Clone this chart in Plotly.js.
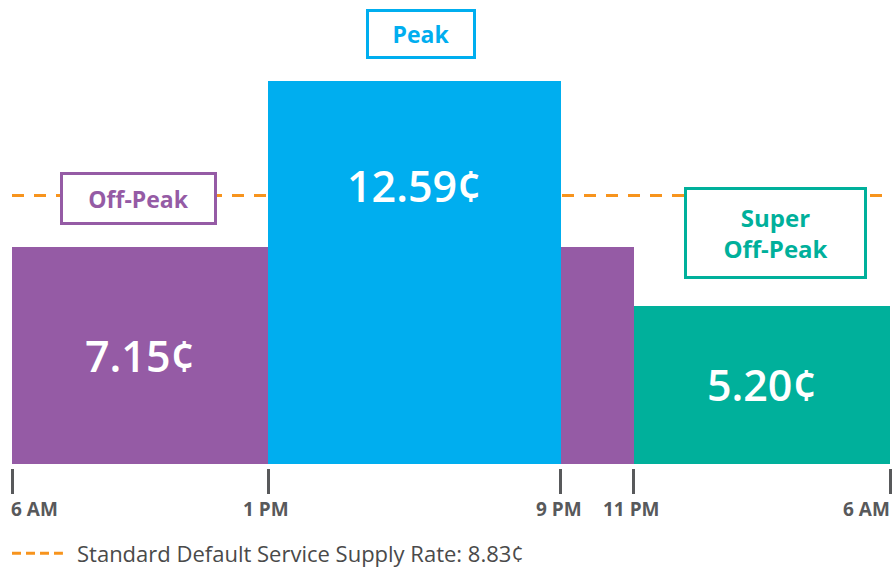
<!DOCTYPE html>
<html>
<head>
<meta charset="utf-8">
<script src="https://cdn.plot.ly/plotly-3.0.1.min.js"></script>
<style>html,body{margin:0;padding:0;background:#fff;}#chart{width:892px;height:570px;}</style>
</head>
<body>
<div id="chart"></div>
<script>
// Time periods (hours after 6 AM) and rates in cents/kWh
const periodNames = ["Off-Peak", "Peak", "Off-Peak", "Super Off-Peak"];
const periodStart = [0, 7, 15, 17];
const periodEnd = [7, 15, 17, 24];
const periodRate = [7.15, 12.59, 7.15, 5.20];
const standardRate = 8.83;
const standardLabel = "Standard Default Service Supply Rate";
const tickHours = [0, 7, 15, 17, 24];
const tickLabels = ["6 AM", "1 PM", "9 PM", "11 PM", "6 AM"];

const colors = {"Off-Peak": "#955BA5", "Peak": "#00AEEF", "Super Off-Peak": "#00B09B"};
const ORANGE = "#F7941D";
const FONT = "'Open Sans', Lato, sans-serif";

const centers = periodStart.map((s, i) => (s + periodEnd[i]) / 2);
const widths = periodStart.map((s, i) => periodEnd[i] - s);
const fmt = v => v.toFixed(2) + "¢";

const barTrace = {
  type: "bar",
  x: centers,
  y: periodRate,
  width: widths,
  marker: {color: periodNames.map(n => colors[n]), line: {width: 0}},
  text: periodRate.map((v, i) => (i === 2 || periodNames[i] === "Peak") ? "" : fmt(v)),
  textposition: "inside",
  insidetextanchor: "middle",
  constraintext: "none",
  textfont: {family: FONT, size: 43, color: "#ffffff", weight: 600},
  hoverinfo: "skip",
  showlegend: false
};

const annotations = [];
// category boxes: one per distinct period name, placed over its first bar
const boxSize = {"Off-Peak": [151, 47], "Peak": [104, 44], "Super Off-Peak": [177, 86]};
const boxShift = {"Off-Peak": 22, "Peak": 22, "Super Off-Peak": 27};
const boxText = {"Off-Peak": "Off-Peak", "Peak": "Peak", "Super Off-Peak": "Super<br>Off-Peak"};
const boxFont = {"Off-Peak": 23, "Peak": 23, "Super Off-Peak": 24};
const boxXShift = {"Off-Peak": -2, "Peak": 7, "Super Off-Peak": 14};
const seen = {};
periodNames.forEach((n, i) => {
  if (seen[n]) return;
  seen[n] = true;
  annotations.push({
    x: centers[i], y: periodRate[i], xref: "x", yref: "y",
    yanchor: "bottom", yshift: boxShift[n], xshift: boxXShift[n],
    text: "<b>" + boxText[n] + "</b>", showarrow: false,
    font: {family: FONT, size: boxFont[n], color: colors[n]},
    bordercolor: colors[n], borderwidth: 3, borderpad: 0,
    bgcolor: "#ffffff",
    width: boxSize[n][0], height: boxSize[n][1], align: "center", valign: "middle"
  });
});
// Peak value label near the top of its bar
periodNames.forEach((n, i) => {
  if (n !== "Peak") return;
  annotations.push({
    x: centers[i], y: periodRate[i], xref: "x", yref: "y",
    yanchor: "middle", yshift: -104, xshift: 0,
    text: fmt(periodRate[i]), showarrow: false,
    font: {family: FONT, size: 43, color: "#ffffff", weight: 600}
  });
});
// tick labels
tickHours.forEach((h, i) => {
  const first = i === 0, last = i === tickHours.length - 1;
  annotations.push({
    x: h, y: 0, xref: "x", yref: "paper",
    yanchor: "top", yshift: -26,
    xanchor: first ? "left" : (last ? "right" : "center"),
    xshift: first ? -3 : (last ? 2 : -2),
    text: "<b>" + tickLabels[i] + "</b>", showarrow: false,
    font: {family: FONT, size: 19, color: "#58595B"}
  });
});
// key for the standard rate line
annotations.push({
  x: 0.072, y: -0.182, xref: "paper", yref: "paper",
  xanchor: "left", yanchor: "middle",
  text: standardLabel + ": " + fmt(standardRate), showarrow: false,
  font: {family: FONT, size: 22, color: "#4A4A4A"}
});

const layout = {
  width: 892, height: 570,
  margin: {l: 12, r: 2, t: 0, b: 102},
  paper_bgcolor: "#ffffff", plot_bgcolor: "#ffffff",
  bargap: 0,
  showlegend: false,
  xaxis: {
    range: [0, 24], tickmode: "array", tickvals: tickHours, ticktext: tickLabels,
    showticklabels: false, ticks: "outside", ticklen: 25, tickwidth: 3, tickcolor: "#58595B",
    showgrid: false, zeroline: false, showline: false, fixedrange: true
  },
  yaxis: {
    range: [-0.13, 15.26], visible: false, showgrid: false, zeroline: false, fixedrange: true
  },
  shapes: [
    {
      type: "line", xref: "x", yref: "y", x0: 0, x1: 24, y0: standardRate, y1: standardRate,
      line: {color: ORANGE, width: 3, dash: "12px,10px"}, layer: "below"
    },
    {
      type: "line", xref: "paper", yref: "paper", x0: 0, x1: 0.058, y0: -0.182, y1: -0.182,
      line: {color: ORANGE, width: 3, dash: "9px,5px"}
    }
  ],
  annotations: annotations,
  font: {family: FONT}
};

Plotly.newPlot("chart", [barTrace], layout, {displayModeBar: false, staticPlot: true});
</script>
</body>
</html>
